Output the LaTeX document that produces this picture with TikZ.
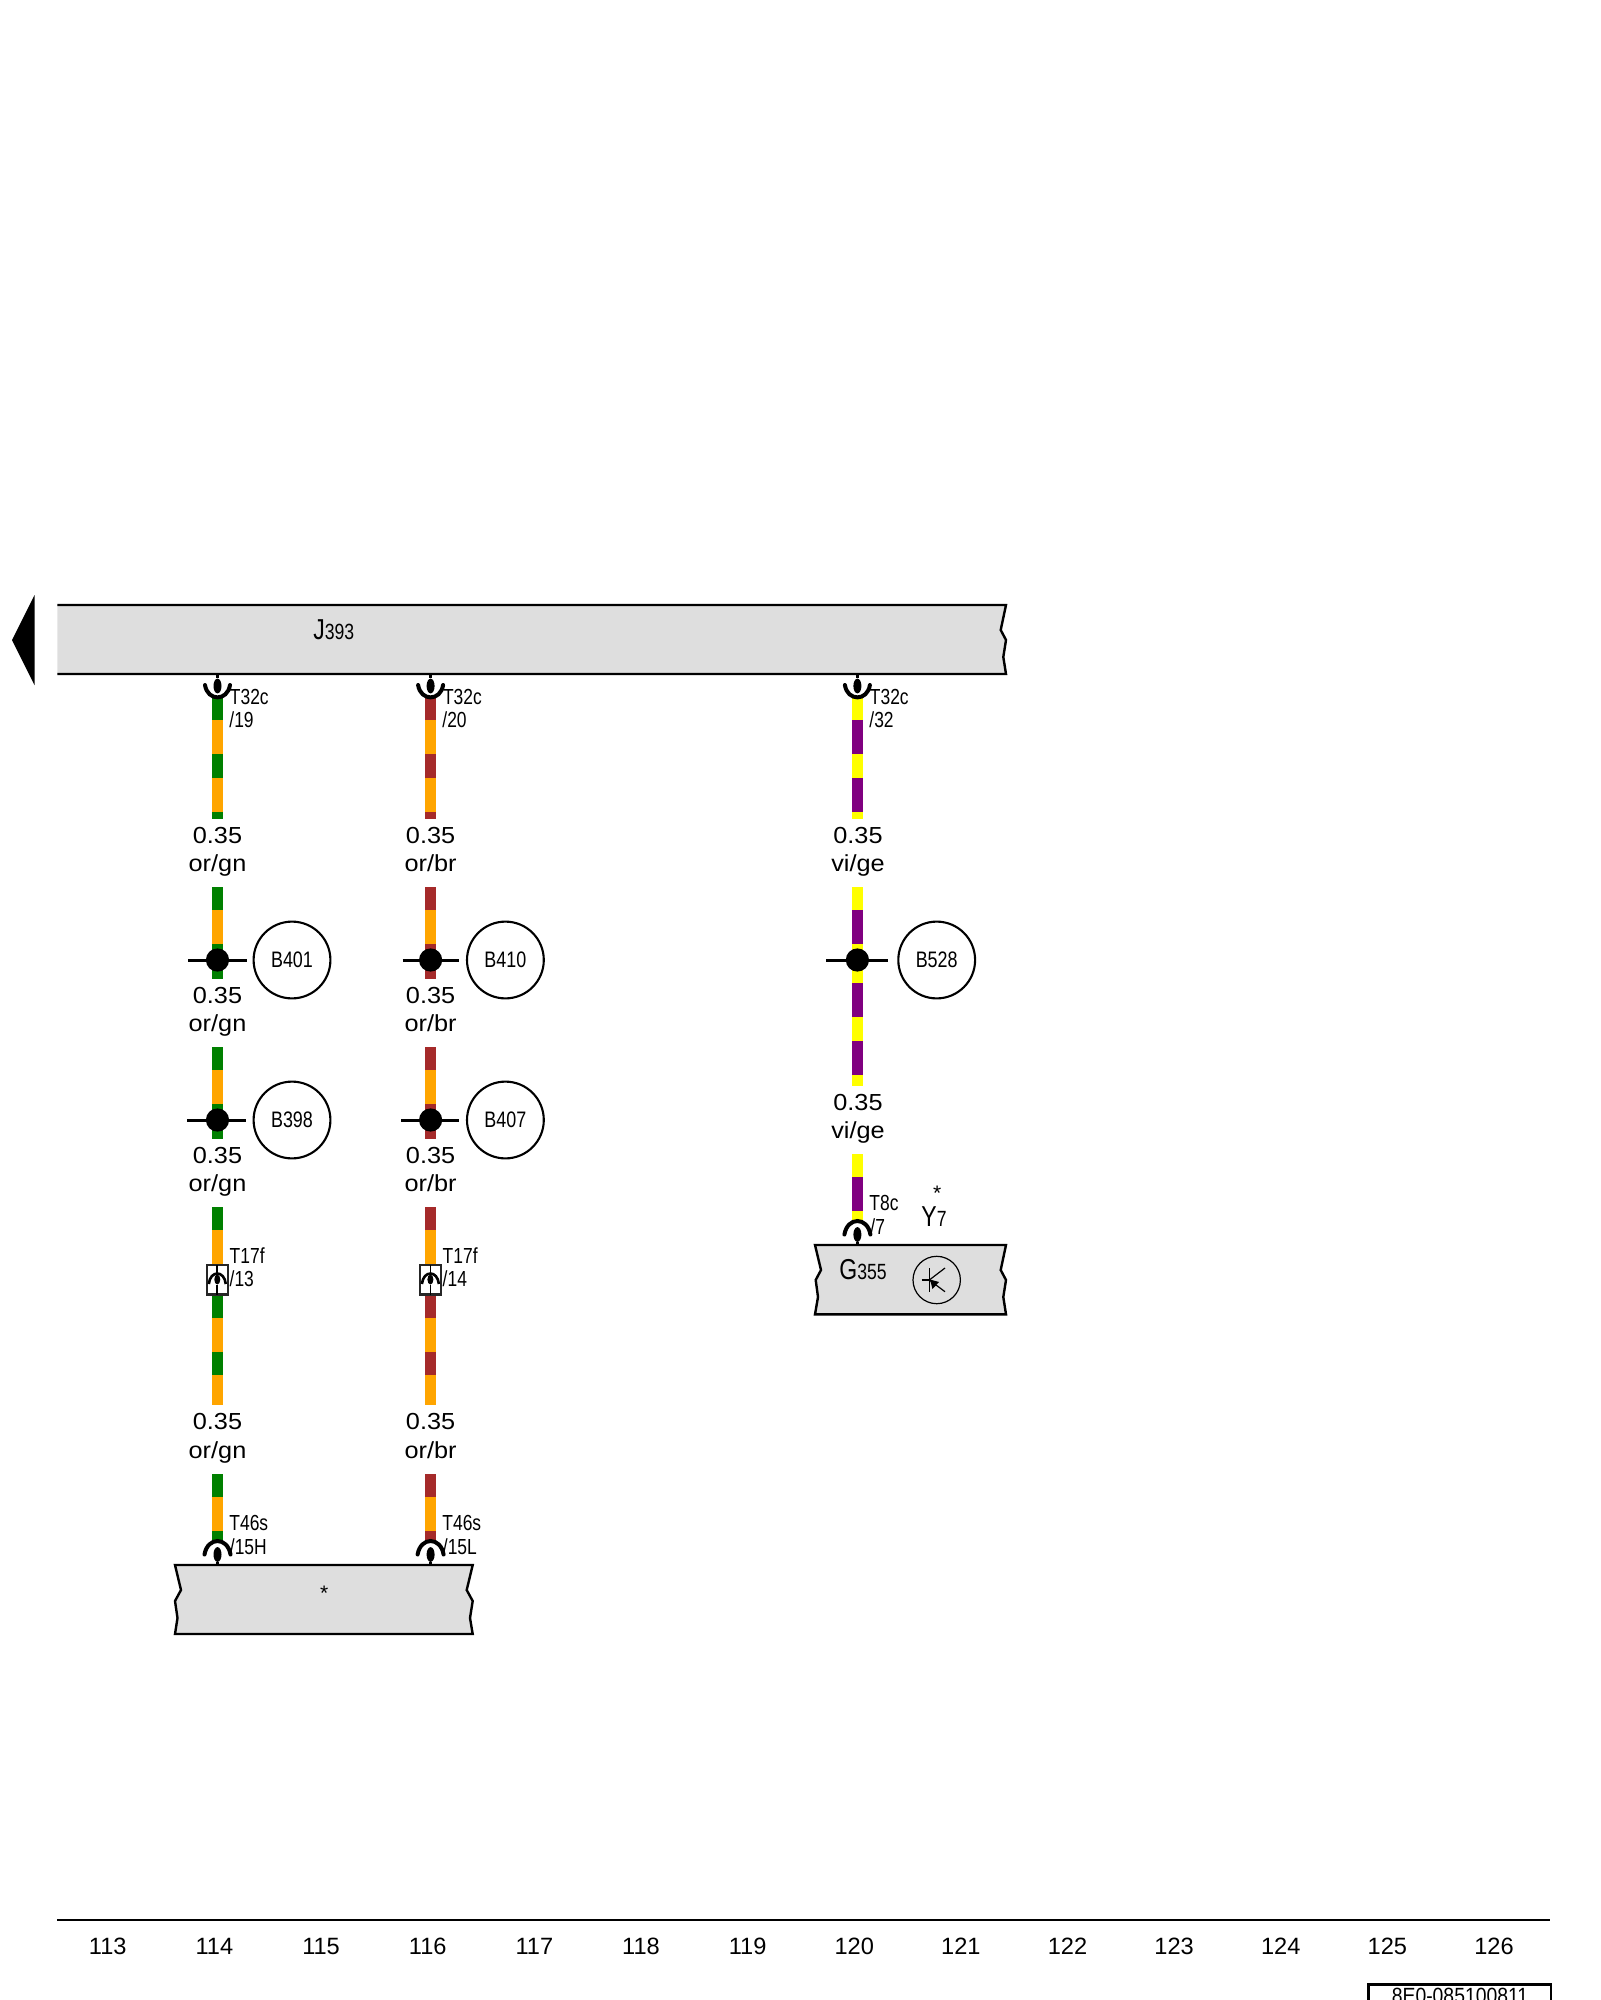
\documentclass[tikz,border=0pt]{standalone}
\usepackage{fontspec}
\usetikzlibrary{shapes.geometric}
\setmainfont{Liberation Sans}
\newfontfamily\narrowfont[FakeStretch=0.8]{Liberation Sans}
\newfontfamily\docfont[FakeStretch=0.88]{Liberation Sans}
\newfontfamily\widefont[FakeStretch=1.09]{Liberation Sans}
\newfontfamily\numfont[FakeStretch=1.0]{Liberation Sans}
\definecolor{boxgray}{HTML}{DEDEDE}
\definecolor{wgreen}{HTML}{008000}
\definecolor{worange}{HTML}{FFA500}
\definecolor{wbrown}{HTML}{A52A2A}
\definecolor{wviolet}{HTML}{800080}
\definecolor{wyellow}{HTML}{FFFF00}
\tikzset{
  x=0.5pt,y=-0.5pt,
  wireline/.style={line width=5.85pt},
  stripes/.style={dash pattern=on 11.6pt off 17.1pt},
  partbox/.style={fill=boxgray,draw=black,line width=1.2pt,line join=miter},
  pinline/.style={line width=1.4pt,line cap=butt},
  arcline/.style={line width=2pt,line cap=round},
  pinhead/.style={ellipse,fill=black,inner sep=0pt,minimum width=4pt,minimum height=7.4pt},
  splice/.style={circle,fill=black,inner sep=0pt,minimum size=11.6pt},
  spliceline/.style={line width=1.5pt},
  reftag/.style={circle,draw=black,line width=1.05pt,minimum size=38.4pt,inner sep=0pt,
     font=\narrowfont\fontsize{11.2}{12}\selectfont},
  pinlabel/.style={anchor=base west,inner sep=0pt,font=\narrowfont\fontsize{10.9}{12}\selectfont},
  wirelabel/.style={anchor=base,inner sep=0pt,font=\widefont\fontsize{11.6}{13}\selectfont},
  numlabel/.style={anchor=base,inner sep=0pt,font=\numfont\fontsize{11.8}{13}\selectfont},
}
\newcommand{\wirerun}[6]{% name,x,y1,y2,base,stripe
  \coordinate (#1a) at (#2,#3);
  \coordinate (#1b) at (#2,#4);
  \draw[wireline,#5] (#1a) -- (#1b);
  \draw[wireline,#6,stripes] (#1a) -- (#1b);
}
\newcommand{\wiretext}[4]{% name,x,baseline,colour code
  \node[wirelabel] (#1s) at (#2,#3) {0.35};
  \node[wirelabel] (#1c) at (#2,#3+28.8) {#4};
}
% contact hanging under a part (y = lower edge of the part)
\newcommand{\contactdown}[3]{%
  \node[pinhead] (#1h) at (#2,#3+12) {};
  \coordinate (#1t) at (#2,#3);
  \draw[pinline] (#1t) -- (#1h);
  \draw[arcline] (#2-12.5,#3+11) .. controls (#2-10,#3+27.5) and (#2+10,#3+27.5) .. (#2+12.5,#3+11);
}
% contact sitting on a part (y = upper edge of the part)
\newcommand{\contactup}[3]{%
  \node[pinhead] (#1h) at (#2,#3-10.5) {};
  \coordinate (#1t) at (#2,#3);
  \draw[pinline] (#1t) -- (#1h);
  \draw[arcline] (#2-13,#3-10.5) .. controls (#2-10,#3-28.5) and (#2+10,#3-28.5) .. (#2+13,#3-10.5);
}
% in-line connector box
\newcommand{\inlinebox}[2]{%
  \draw[fill=white,draw=black!85,line width=1.1pt] (#2-10.3,1265) rectangle (#2+10.3,1294.5);
  \node[pinhead,minimum width=3pt,minimum height=5pt] (#1h) at (#2,1279.5) {};
  \coordinate (#1t) at (#2,1265);
  \coordinate (#1e) at (#2,1294.5);
  \draw[line width=0.9pt] (#1t) -- (#2,1273);
  \draw[line width=0.9pt] (#1h) -- (#1e);
  \draw[line width=1.3pt] (#2-8.5,1284) .. controls (#2-7,1270) and (#2+7,1270) .. (#2+8.5,1284);
}
\newcommand{\splicerow}[6]{% name,x,y,x-left,x-right,tag x + text
  \node[splice] (#1) at (#2,#3) {};
  \coordinate (#1l) at (#4,#3);
  \coordinate (#1r) at (#5,#3);
  \draw[spliceline] (#1l) -- (#1r);
  \node[reftag] (#1t) at (#6,#3) {#1};
}
\begin{document}
\begin{tikzpicture}
\useasboundingbox (0,0) rectangle (1600,2000);
\clip (0,0) rectangle (1600,2000);
% left arrow
\fill[black] (34.5,595) -- (34.5,685) -- (12,640) -- cycle;
% J393 bar
\fill[boxgray] (57.4,605) -- (1006,605) -- (1000.7,630) -- (1006,640) -- (1003.3,657) -- (1006,674) -- (57.4,674) -- cycle;
\draw[black,line width=1.2pt] (57.4,605) -- (1006,605) -- (1000.7,630) -- (1006,640) -- (1003.3,657) -- (1006,674) -- (57.4,674);
\node[inner sep=0pt,anchor=base west] (J393) at (313,639.5) {\narrowfont\fontsize{14.4}{16}\selectfont J\fontsize{11}{12}\selectfont 393};
% wire 1
\wirerun{aa}{217.5}{697}{819}{worange}{wgreen}
\wirerun{ab}{217.5}{887}{960}{worange}{wgreen}
\wirerun{ac}{217.5}{960}{979}{worange}{wgreen}
\wirerun{ad}{217.5}{1047}{1120}{worange}{wgreen}
\wirerun{ae}{217.5}{1120}{1139}{worange}{wgreen}
\wirerun{af}{217.5}{1207}{1265}{worange}{wgreen}
\wirerun{ag}{217.5}{1294.5}{1405}{worange}{wgreen}
\wirerun{ah}{217.5}{1474}{1542}{worange}{wgreen}
% wire 2
\wirerun{ba}{430.6}{697}{819}{worange}{wbrown}
\wirerun{bb}{430.6}{887}{960}{worange}{wbrown}
\wirerun{bc}{430.6}{960}{979}{worange}{wbrown}
\wirerun{bd}{430.6}{1047}{1120}{worange}{wbrown}
\wirerun{be}{430.6}{1120}{1139}{worange}{wbrown}
\wirerun{bf}{430.6}{1207}{1265}{worange}{wbrown}
\wirerun{bg}{430.6}{1294.5}{1405}{worange}{wbrown}
\wirerun{bh}{430.6}{1474}{1542}{worange}{wbrown}
% wire 3
\wirerun{ca}{857.4}{697}{819}{wviolet}{wyellow}
\wirerun{cb}{857.4}{887}{960}{wviolet}{wyellow}
\wirerun{cc}{857.4}{960}{1086}{wviolet}{wyellow}
\wirerun{cd}{857.4}{1154}{1222}{wviolet}{wyellow}
% contacts on J393
\contactdown{ka}{217.5}{674}
\contactdown{kb}{430.6}{674}
\contactdown{kc}{857.4}{674}
\node[pinlabel] (ta) at (229.5,704.5) {T32c};
\node[pinlabel] (tb) at (229,727.5) {/19};
\node[pinlabel] (tc) at (442.6,704.5) {T32c};
\node[pinlabel] (td) at (442,727.5) {/20};
\node[pinlabel] (te) at (869.5,704.5) {T32c};
\node[pinlabel] (tf) at (869,727.5) {/32};
% wire labels
\wiretext{la}{217.5}{843}{or/gn}
\wiretext{lb}{430.6}{843}{or/br}
\wiretext{lc}{858}{843}{vi/ge}
\wiretext{ld}{217.5}{1003}{or/gn}
\wiretext{le}{430.6}{1003}{or/br}
\wiretext{lf}{858}{1110}{vi/ge}
\wiretext{lg}{217.5}{1163}{or/gn}
\wiretext{lh}{430.6}{1163}{or/br}
\wiretext{li}{217.5}{1429.5}{or/gn}
\wiretext{lj}{430.6}{1429.5}{or/br}
% splices
\splicerow{B401}{217.5}{960}{188}{247}{292}
\splicerow{B410}{430.6}{960}{402.6}{458.5}{505.4}
\splicerow{B528}{857.4}{960}{826}{888}{936.7}
\splicerow{B398}{217.5}{1120}{187}{246}{292}
\splicerow{B407}{430.6}{1120}{401}{458.5}{505.4}
% in-line connectors
\inlinebox{xa}{217.3}
\inlinebox{xb}{430.4}
\node[pinlabel] (tg) at (229.3,1263.5) {T17f};
\node[pinlabel] (th) at (229.3,1286.5) {/13};
\node[pinlabel] (ti) at (442.3,1263.5) {T17f};
\node[pinlabel] (tj) at (442.3,1286.5) {/14};
% lower part
\path[partbox] (175,1565) -- (472.7,1565) -- (466.7,1590) -- (472.7,1601) -- (470,1618) -- (472.7,1634) -- (175,1634) -- (177.5,1618) -- (175,1601) -- (181,1590) -- cycle;
\node[inner sep=0pt,font=\fontsize{10.5}{12}\selectfont] (star) at (324.3,1593) {*};
\contactup{kd}{217.5}{1565}
\contactup{ke}{430.6}{1565}
\node[pinlabel] (tk) at (229,1530.5) {T46s};
\node[pinlabel] (tl) at (229.5,1554) {/15H};
\node[pinlabel] (tm) at (442,1530.5) {T46s};
\node[pinlabel] (tn) at (442.5,1554) {/15L};
% G355
\path[partbox] (815,1245) -- (1006,1245) -- (1000.7,1270) -- (1006,1280) -- (1003.3,1297) -- (1006,1314.3) -- (815,1314.3) -- (818,1297) -- (815.7,1280) -- (821,1270) -- cycle;
\contactup{kf}{857.4}{1245}
\node[pinlabel] (to) at (869,1210.5) {T8c};
\node[pinlabel] (tp) at (870,1234) {/7};
\node[inner sep=0pt,anchor=base west] (G355) at (839,1279) {\narrowfont\fontsize{14.4}{16}\selectfont G\fontsize{11}{12}\selectfont 355};
\node[inner sep=0pt,anchor=base west] (Y7) at (921,1226.7) {\narrowfont\fontsize{14.4}{16}\selectfont Y\fontsize{11}{12}\selectfont 7};
\node[inner sep=0pt,font=\fontsize{10.5}{12}\selectfont] (ystar) at (937.3,1193) {*};
% symbol in G355
\node[circle,draw=black,line width=0.6pt,minimum size=23.7pt,inner sep=0pt] (sym) at (936.7,1280) {};
\coordinate (sa) at (929.3,1268.3);
\coordinate (sb) at (929.3,1291.7);
\coordinate (sc) at (921.7,1280);
\coordinate (sd) at (929.3,1280);
\coordinate (se) at (945,1268);
\coordinate (sf) at (945,1291.7);
\draw[line width=0.6pt] (sa) -- (sb);
\draw[line width=0.6pt] (sc) -- (sd);
\draw[line width=0.6pt] (sd) -- (se);
\draw[line width=0.6pt] (sd) -- (sf);
\fill[black] (930,1279.5) -- (939,1282) -- (932.5,1289) -- cycle;
% footer
\coordinate (fa) at (57.4,1920);
\coordinate (fb) at (1550,1920);
\draw[line width=1.2pt] (fa) -- (fb);
\foreach \n [count=\i from 0] in {113,114,...,126} {
  \node[numlabel] (n\n) at (107.8+\i*106.63,1954) {\n};
}
\draw[line width=1.2pt] (1368.3,2012) -- (1368.3,1984.3) -- (1551,1984.3) -- (1551,2012);
\node[anchor=base,inner sep=0pt,font=\docfont\fontsize{11}{12}\selectfont] (docid) at (1460,2003) {8E0-085100811};
\end{tikzpicture}
\end{document}
